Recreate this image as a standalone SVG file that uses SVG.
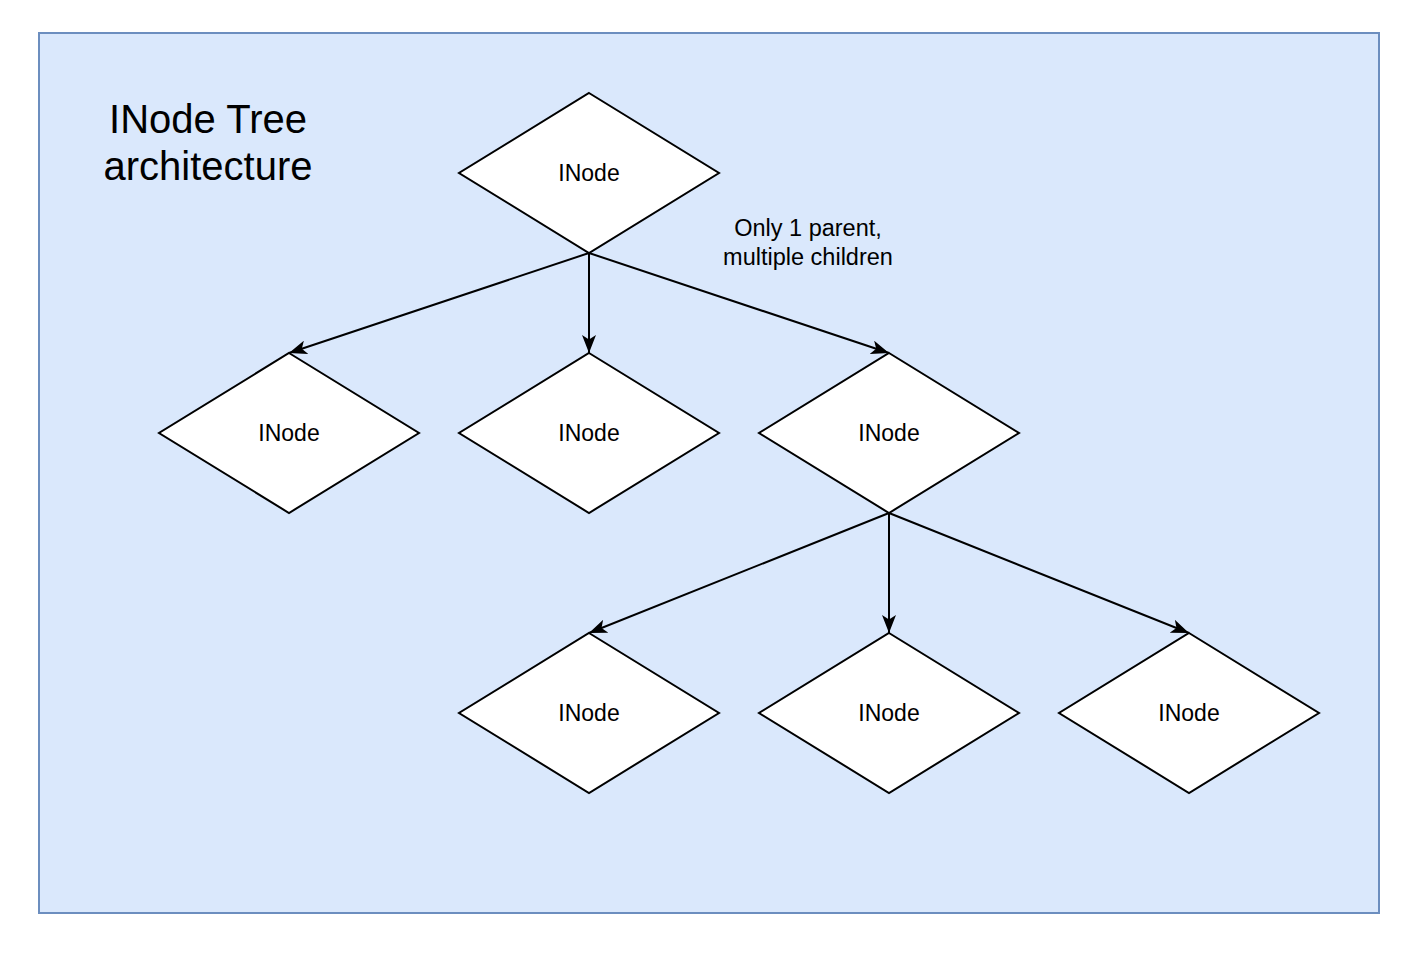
<svg xmlns="http://www.w3.org/2000/svg" width="1418" height="956" viewBox="0 0 1418 956">
  <style>
    .bg { fill: #dae8fc; stroke: #6c8ebf; stroke-width: 2; }
    .node { fill: #ffffff; stroke: #000000; stroke-width: 2; }
    .lbl { font-family: "Liberation Sans", Arial, sans-serif; font-size: 23px; fill: #000000; text-anchor: middle; }
    .elbl { font-family: "Liberation Sans", Arial, sans-serif; font-size: 23.5px; fill: #000000; text-anchor: middle; }
    .title { font-family: "Liberation Sans", Arial, sans-serif; font-size: 40px; fill: #000000; text-anchor: middle; }
    .edge { fill: none; stroke: #000000; stroke-width: 2; }
  </style>
  <defs>
    <marker id="arrow" viewBox="0 0 18 14" refX="18" refY="7" markerWidth="18" markerHeight="14" markerUnits="userSpaceOnUse" orient="auto">
      <path d="M0,0 L18,7 L0,14 L4.5,7 Z" fill="#000000"/>
    </marker>
  </defs>
  <rect width="1418" height="956" fill="#ffffff"/>
  <g id="container">
    <rect class="bg" x="39" y="33" width="1340" height="880"/>
  </g>
  <g id="title">
    <text class="title" x="208" y="133">INode Tree</text>
    <text class="title" x="208" y="180">architecture</text>
  </g>
  <g id="connectors">
    <line class="edge" x1="589" y1="253" x2="289" y2="353" marker-end="url(#arrow)"/>
    <line class="edge" x1="589" y1="253" x2="589" y2="353" marker-end="url(#arrow)"/>
    <line class="edge" x1="589" y1="253" x2="889" y2="353" marker-end="url(#arrow)"/>
    <line class="edge" x1="889" y1="513" x2="589" y2="633" marker-end="url(#arrow)"/>
    <line class="edge" x1="889" y1="513" x2="889" y2="633" marker-end="url(#arrow)"/>
    <line class="edge" x1="889" y1="513" x2="1189" y2="633" marker-end="url(#arrow)"/>
  </g>
  <g id="edge-label">
    <text class="elbl" x="808" y="236">Only 1 parent,</text>
    <text class="elbl" x="808" y="265">multiple children</text>
  </g>
  <g id="root">
    <polygon class="node" points="589,93 719,173 589,253 459,173"/>
    <text class="lbl" x="589" y="181">INode</text>
  </g>
  <g id="child1">
    <polygon class="node" points="289,353 419,433 289,513 159,433"/>
    <text class="lbl" x="289" y="441">INode</text>
  </g>
  <g id="child2">
    <polygon class="node" points="589,353 719,433 589,513 459,433"/>
    <text class="lbl" x="589" y="441">INode</text>
  </g>
  <g id="child3">
    <polygon class="node" points="889,353 1019,433 889,513 759,433"/>
    <text class="lbl" x="889" y="441">INode</text>
  </g>
  <g id="grandchild1">
    <polygon class="node" points="589,633 719,713 589,793 459,713"/>
    <text class="lbl" x="589" y="721">INode</text>
  </g>
  <g id="grandchild2">
    <polygon class="node" points="889,633 1019,713 889,793 759,713"/>
    <text class="lbl" x="889" y="721">INode</text>
  </g>
  <g id="grandchild3">
    <polygon class="node" points="1189,633 1319,713 1189,793 1059,713"/>
    <text class="lbl" x="1189" y="721">INode</text>
  </g>
</svg>
